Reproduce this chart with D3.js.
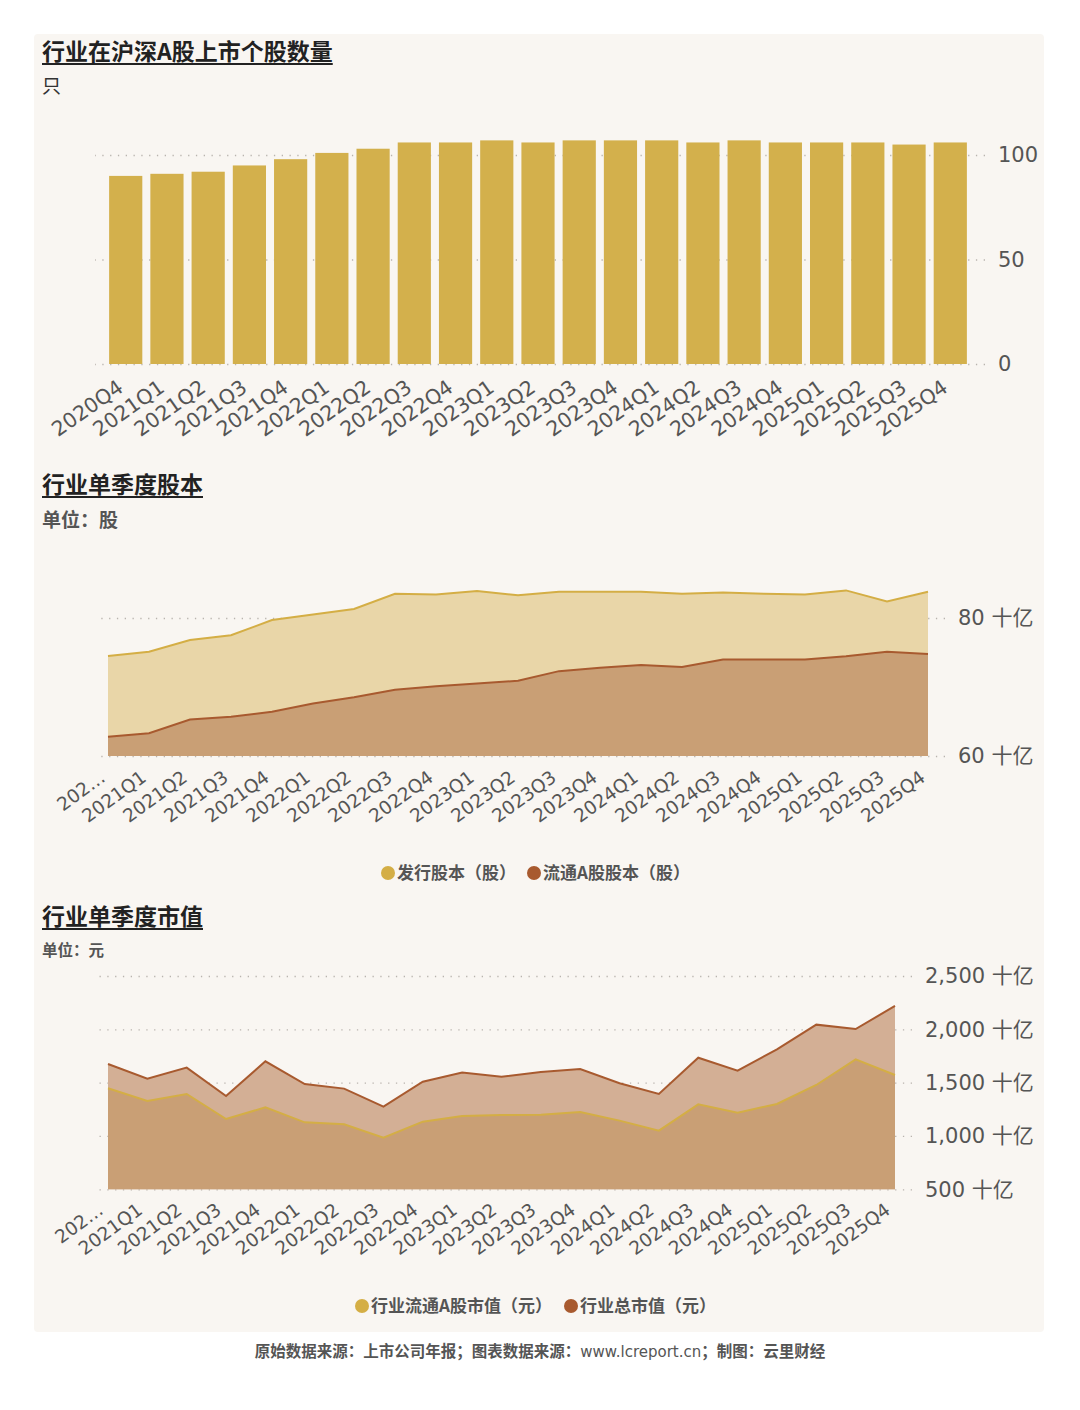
<!DOCTYPE html>
<html>
<head>
<meta charset="utf-8">
<script src="https://cdn.jsdelivr.net/npm/d3@7"></script>
<style>
  html, body { margin: 0; padding: 0; background: #ffffff; }
  svg { display: block; }
  text { font-family: "DejaVu Sans", "Noto Sans CJK SC", sans-serif; }
  .cjk { font-family: "Noto Sans CJK SC", "DejaVu Sans", sans-serif; }
</style>
</head>
<body>
<svg id="chart" width="1080" height="1410"></svg>
<script>
// ---------------- DATA ----------------
const quarters = ["2020Q4","2021Q1","2021Q2","2021Q3","2021Q4","2022Q1","2022Q2","2022Q3","2022Q4",
  "2023Q1","2023Q2","2023Q3","2023Q4","2024Q1","2024Q2","2024Q3","2024Q4","2025Q1","2025Q2","2025Q3","2025Q4"];

// 行业在沪深A股上市个股数量 (只)
const stockCount = [90,91,92,95,98,101,103,106,106,107,106,107,107,107,106,107,106,106,106,105,106];
const countTicks = [0,50,100];

// 行业单季度股本 (十亿股)
const issuedShares = [74.5,75.1,76.8,77.5,79.7,80.5,81.3,83.5,83.4,83.9,83.3,83.8,83.8,83.8,83.5,83.7,83.5,83.4,84.0,82.4,83.8];
const floatShares  = [62.8,63.3,65.3,65.7,66.4,67.6,68.5,69.6,70.1,70.5,70.9,72.3,72.8,73.2,72.9,74.0,74.0,74.0,74.45,75.1,74.8];
const shareTicks = [60,80];

// 行业单季度市值 (十亿元)
const floatMktCap = [1447,1328,1394,1159,1269,1128,1109,984,1134,1187,1197,1200,1225,1144,1050,1297,1219,1300,1478,1719,1572];
const totalMktCap = [1675,1537,1641,1375,1700,1487,1444,1275,1509,1594,1556,1600,1628,1494,1394,1734,1612,1812,2044,2003,2219];
const capTicks = [500,1000,1500,2000,2500];

const titles = ["行业在沪深A股上市个股数量","行业单季度股本","行业单季度市值"];
const units = ["只","单位：股","单位：元"];
const legend2 = ["发行股本（股）","流通A股股本（股）"];
const legend3 = ["行业流通A股市值（元）","行业总市值（元）"];
const footer = ["原始数据来源：上市公司年报；图表数据来源：","www.lcreport.cn","；制图：云里财经"];

// ---------------- STYLE ----------------
const C = {
  bar: "#d3b04c",
  gold: "#d4ae45",
  brown: "#a85a2f",
  lightGold: "#e9d6a8",
  tan: "#c99f75",
  lightTan: "#d3af95",
  text: "#555555",
  grid: "#b9b4ae"
};

const svg = d3.select("#chart");
svg.append("rect").attr("x",34).attr("y",34).attr("width",1010).attr("height",1298)
  .attr("rx",4).attr("fill","#f9f6f2");

function title(txt, y, size) {
  const t = svg.append("text").attr("class","cjk").attr("x",42).attr("y",y)
    .attr("font-size",size).attr("font-weight","bold").attr("fill","#222").text(txt);
  const w = t.node().getComputedTextLength();
  svg.append("line").attr("x1",42).attr("x2",42+w).attr("y1",y+4).attr("y2",y+4)
    .attr("stroke","#222").attr("stroke-width",1.8);
}
function unit(txt, y, size, bold) {
  svg.append("text").attr("class","cjk").attr("x",42).attr("y",y)
    .attr("font-size",size).attr("font-weight",bold ? "bold" : "normal")
    .attr("fill", bold ? "#555" : "#333").text(txt);
}

function yAxis(scale, ticks, xRight, xLeft, fmt) {
  const g = svg.append("g").attr("transform",`translate(${xRight},0)`)
    .call(d3.axisRight(scale).tickValues(ticks).tickSize(-(xRight-xLeft)).tickPadding(13).tickFormat(fmt));
  g.select(".domain").remove();
  g.selectAll(".tick line").attr("stroke",C.grid).attr("stroke-width",1.3).attr("stroke-dasharray","1.3,6.5");
  g.selectAll(".tick text").attr("font-size",21).attr("fill",C.text);
  return g;
}
function xAxis(scale, yPos, truncateFirst, angle, size, dx, dy) {
  const g = svg.append("g").attr("transform",`translate(0,${yPos})`)
    .call(d3.axisBottom(scale).tickSize(0).tickFormat((d,i) => (truncateFirst && i===0) ? "202…" : d));
  g.select(".domain").remove();
  g.selectAll(".tick text")
    .attr("x",0).attr("y",0).attr("dy",0)
    .attr("text-anchor","end")
    .attr("transform",`translate(${dx},${dy}) rotate(${-angle})`)
    .attr("font-size",size).attr("fill",C.text);
  return g;
}
function legend(items, colors, xs, y) {
  items.forEach((it,i) => {
    svg.append("circle").attr("cx",xs[i]).attr("cy",y).attr("r",7).attr("fill",colors[i]);
    svg.append("text").attr("class","cjk").attr("x",xs[i]+9).attr("y",y+6)
      .attr("font-size",17).attr("font-weight","bold").attr("fill",C.text).text(it);
  });
}

// ---------------- CHART 1 ----------------
title(titles[0], 60, 23);
unit(units[0], 93, 19, false);
const x1 = d3.scaleBand().domain(quarters).range([105,971]).paddingInner(0.195).paddingOuter(0.1);
const y1 = d3.scaleLinear().domain([0,100]).range([364,155]);
yAxis(y1, countTicks, 985, 95, d3.format("d"));
svg.append("g").selectAll("rect").data(quarters).join("rect")
  .attr("x", d => x1(d)).attr("width", x1.bandwidth())
  .attr("y", (d,i) => y1(stockCount[i])).attr("height", (d,i) => y1(0) - y1(stockCount[i]))
  .attr("fill", C.bar);
xAxis(x1, 364, false, 35, 20.5, -1, 26.5);

// ---------------- CHART 2 ----------------
title(titles[1], 493, 23);
unit(units[1], 527, 19, true);
const x2 = d3.scalePoint().domain(quarters).range([108,928]);
const y2 = d3.scaleLinear().domain([60,80]).range([756,618]);
yAxis(y2, shareTicks, 945, 95, d => d + " 十亿");
const area2 = vals => d3.area().x((d,i) => x2(quarters[i])).y0(y2(60)).y1(d => y2(d))(vals);
const line2 = vals => d3.line().x((d,i) => x2(quarters[i])).y(d => y2(d))(vals);
svg.append("path").attr("d", area2(issuedShares)).attr("fill", C.lightGold);
svg.append("path").attr("d", area2(floatShares)).attr("fill", C.tan);
svg.append("path").attr("d", line2(issuedShares)).attr("fill","none").attr("stroke",C.gold).attr("stroke-width",2);
svg.append("path").attr("d", line2(floatShares)).attr("fill","none").attr("stroke",C.brown).attr("stroke-width",2);
xAxis(x2, 756, true, 36, 18.5, -2, 24);
legend(legend2, [C.gold, C.brown], [388, 534], 873);

// ---------------- CHART 3 ----------------
title(titles[2], 925, 23);
unit(units[2], 956, 15.5, true);
const x3 = d3.scalePoint().domain(quarters).range([108,895]);
const y3 = d3.scaleLinear().domain([500,2500]).range([1189.3,976]);
yAxis(y3, capTicks, 912, 95, d => d3.format(",")(d) + " 十亿");
const area3 = vals => d3.area().x((d,i) => x3(quarters[i])).y0(y3(500)).y1(d => y3(d))(vals);
const line3 = vals => d3.line().x((d,i) => x3(quarters[i])).y(d => y3(d))(vals);
svg.append("path").attr("d", area3(totalMktCap)).attr("fill", C.lightTan);
svg.append("path").attr("d", area3(floatMktCap)).attr("fill", C.tan);
svg.append("path").attr("d", line3(totalMktCap)).attr("fill","none").attr("stroke",C.brown).attr("stroke-width",2);
svg.append("path").attr("d", line3(floatMktCap)).attr("fill","none").attr("stroke",C.gold).attr("stroke-width",2);
xAxis(x3, 1189.3, true, 36, 18.5, -4, 23.3);
legend(legend3, [C.gold, C.brown], [362, 571], 1306);

// ---------------- FOOTER ----------------
const ft = svg.append("text").attr("class","cjk").attr("x",540).attr("y",1357)
  .attr("text-anchor","middle").attr("font-size",15.5).attr("fill",C.text);
ft.append("tspan").attr("font-weight","bold").text(footer[0]);
ft.append("tspan").attr("font-family","DejaVu Sans").attr("font-size",15).text(footer[1]);
ft.append("tspan").attr("font-weight","bold").text(footer[2]);
</script>
</body>
</html>
